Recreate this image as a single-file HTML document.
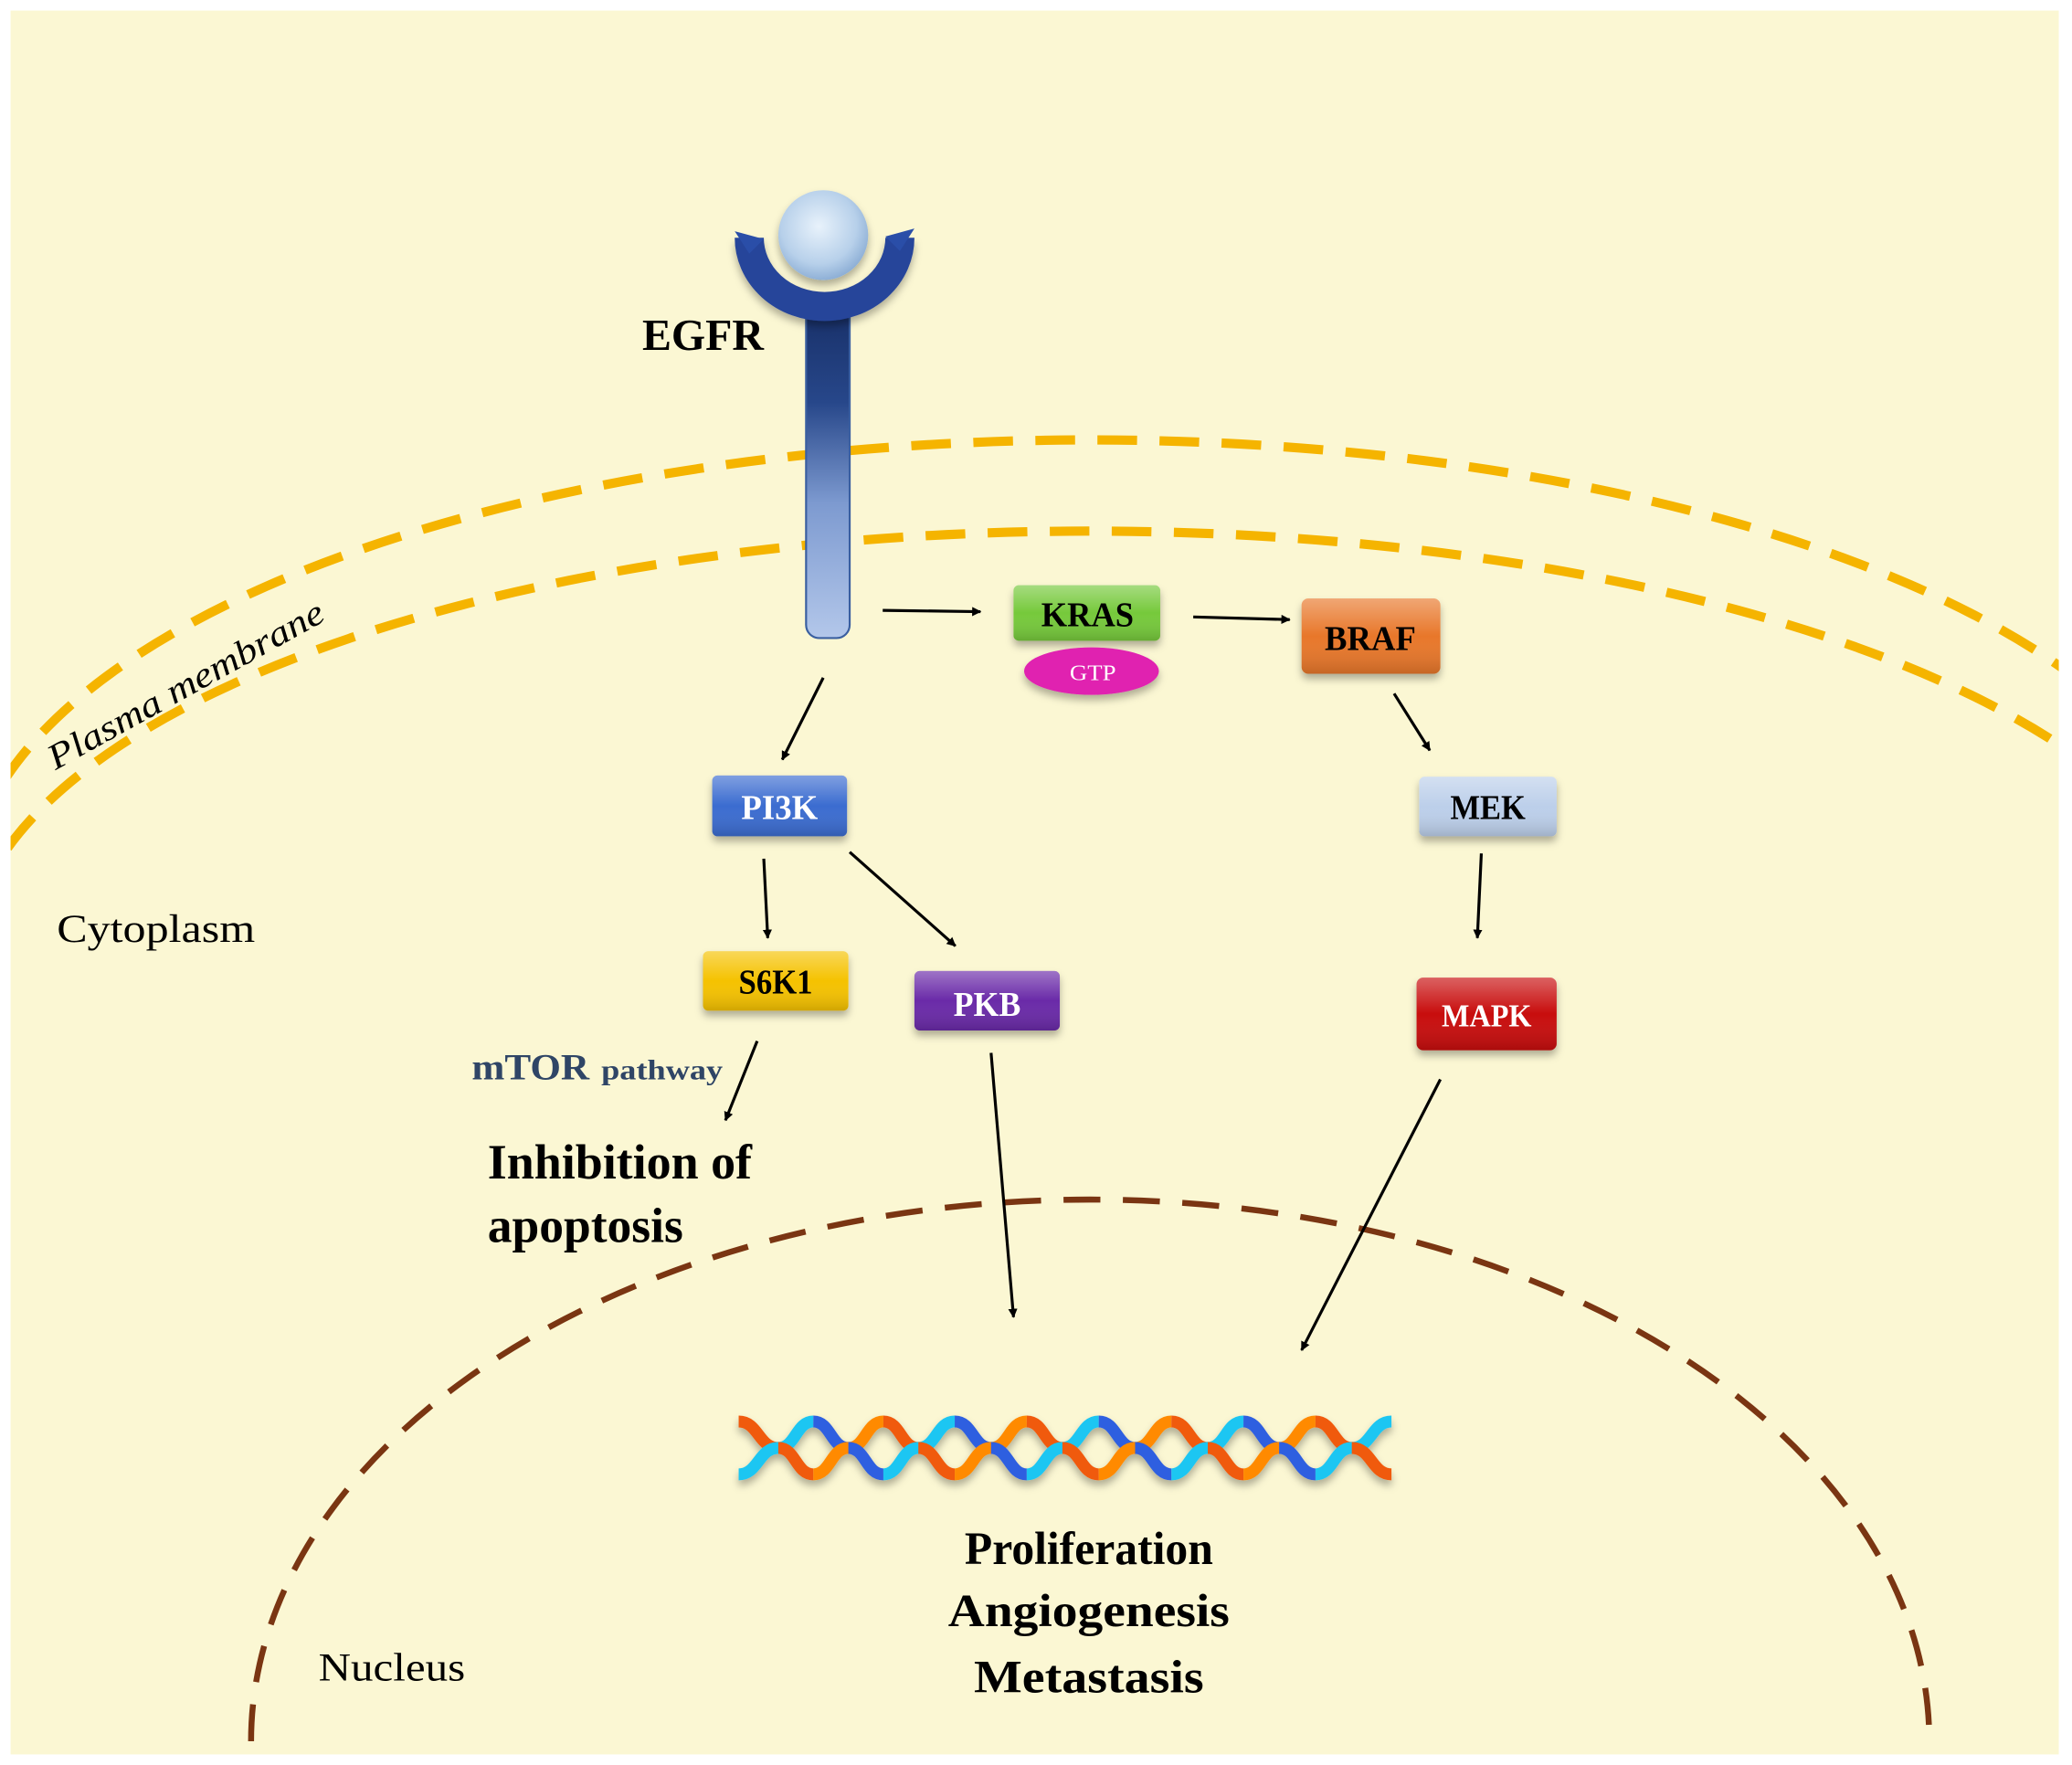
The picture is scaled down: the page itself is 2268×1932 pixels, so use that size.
<!DOCTYPE html>
<html><head><meta charset="utf-8"><style>html,body{margin:0;padding:0;background:#fff}svg{display:block}</style></head><body>
<svg width="2268" height="1932" viewBox="0 0 1568 1336" preserveAspectRatio="none" xmlns="http://www.w3.org/2000/svg" font-family="'Liberation Serif',serif">
<defs>
<clipPath id="bg"><rect x="8" y="8" width="1550" height="1320"/></clipPath>
<marker id="ah" viewBox="0 0 10 10" refX="9" refY="5" markerWidth="7" markerHeight="7" orient="auto" markerUnits="userSpaceOnUse"><path d="M0,0 L10,5 L0,10 z" fill="#000"/></marker>
<linearGradient id="stem" x1="0" y1="0" x2="0" y2="1"><stop offset="0" stop-color="#172e66"/><stop offset="0.3" stop-color="#27478a"/><stop offset="0.6" stop-color="#7d9ad0"/><stop offset="1" stop-color="#b3c7ea"/></linearGradient>
<radialGradient id="ball" cx="0.45" cy="0.4" r="0.6"><stop offset="0" stop-color="#e8f2fb"/><stop offset="0.7" stop-color="#b7d0ea"/><stop offset="1" stop-color="#8fb0d6"/></radialGradient>
<filter id="sh" x="-20%" y="-20%" width="140%" height="160%"><feDropShadow dx="0" dy="4" stdDeviation="3" flood-color="#000" flood-opacity="0.3"/></filter>
<linearGradient id="gl" x1="0" y1="0" x2="0" y2="1"><stop offset="0" stop-color="#fff" stop-opacity="0.35"/><stop offset="0.5" stop-color="#fff" stop-opacity="0"/><stop offset="1" stop-color="#000" stop-opacity="0.15"/></linearGradient>
</defs>
<rect x="0" y="0" width="1568" height="1336" fill="#fff"/>
<rect x="8" y="8" width="1550" height="1320" fill="#fbf7d3"/>
<g clip-path="url(#bg)" fill="none">
<path d="M-25 679 A 850 346 0 0 1 1675 679" stroke="#f5b400" stroke-width="7" stroke-dasharray="30 17"/>
<path d="M-25 729 A 850 327 0 0 1 1675 729" stroke="#f5b400" stroke-width="7" stroke-dasharray="30 17"/>
<path d="M190 1318 A 635 410 0 0 1 1460 1318" stroke="#7a3512" stroke-width="4.5" stroke-dasharray="28 17"/>
</g>
<text transform="translate(42,583) rotate(-29)" font-size="27" font-style="italic" textLength="235" lengthAdjust="spacingAndGlyphs">Plasma membrane</text>
<!-- EGFR -->
<rect x="610" y="228" width="33" height="255" rx="10" fill="url(#stem)" stroke="#3a5fa0" stroke-width="1.5"/>
<path d="M567 180 A 57 52 0 0 0 681 180" fill="none" stroke="#27459a" stroke-width="22" filter="url(#sh)"/>
<path d="M556 175 L578 181 L567 192 Z M692 173 L670 179 L681 190 Z" fill="#2a4ea8"/>
<circle cx="623" cy="178" r="34" fill="url(#ball)" filter="url(#sh)"/>
<text x="486" y="265" font-size="34" font-weight="bold" textLength="92" lengthAdjust="spacingAndGlyphs">EGFR</text>
<!-- arrows -->
<g stroke="#000" stroke-width="2.2" marker-end="url(#ah)">
<line x1="668" y1="462" x2="742" y2="463"/>
<line x1="903" y1="467" x2="976" y2="469"/>
<line x1="623" y1="513" x2="592" y2="575"/>
<line x1="1055" y1="525" x2="1082" y2="568"/>
<line x1="578" y1="650" x2="581" y2="710"/>
<line x1="643" y1="645" x2="723" y2="716"/>
<line x1="1121" y1="646" x2="1118" y2="710"/>
<line x1="573" y1="788" x2="549" y2="848"/>
<line x1="750" y1="797" x2="767" y2="997"/>
<line x1="1090" y1="817" x2="985" y2="1022"/>
</g>
<!-- nodes -->
<g font-weight="bold" font-size="26" text-anchor="middle">
<g filter="url(#sh)">
<rect x="767" y="443" width="111" height="42" rx="4" fill="#76c93a"/>
<rect x="985" y="453" width="105" height="57" rx="5" fill="#e8772a"/>
<rect x="539" y="587" width="102" height="46" rx="4" fill="#3a6cd0"/>
<rect x="1074" y="588" width="104" height="45" rx="4" fill="#bccfea"/>
<rect x="532" y="720" width="110" height="45" rx="4" fill="#f5c200"/>
<rect x="692" y="735" width="110" height="45" rx="4" fill="#6a2aa8"/>
<rect x="1072" y="740" width="106" height="55" rx="5" fill="#c81010"/>
<ellipse cx="826" cy="508" rx="51" ry="18" fill="#e020b0"/>
</g>
<rect x="767" y="443" width="111" height="42" rx="4" fill="url(#gl)"/>
<rect x="985" y="453" width="105" height="57" rx="5" fill="url(#gl)"/>
<rect x="539" y="587" width="102" height="46" rx="4" fill="url(#gl)"/>
<rect x="1074" y="588" width="104" height="45" rx="4" fill="url(#gl)"/>
<rect x="532" y="720" width="110" height="45" rx="4" fill="url(#gl)"/>
<rect x="692" y="735" width="110" height="45" rx="4" fill="url(#gl)"/>
<rect x="1072" y="740" width="106" height="55" rx="5" fill="url(#gl)"/>
<text x="823" y="474" textLength="70" lengthAdjust="spacingAndGlyphs">KRAS</text>
<text x="1037" y="492" textLength="69" lengthAdjust="spacingAndGlyphs">BRAF</text>
<text x="590" y="620" fill="#fff" textLength="58" lengthAdjust="spacingAndGlyphs">PI3K</text>
<text x="1126" y="620" textLength="57" lengthAdjust="spacingAndGlyphs">MEK</text>
<text x="587" y="752" textLength="56" lengthAdjust="spacingAndGlyphs">S6K1</text>
<text x="747" y="769" fill="#fff" textLength="51" lengthAdjust="spacingAndGlyphs">PKB</text>
<text x="1125" y="777" fill="#fff" font-size="24" textLength="68" lengthAdjust="spacingAndGlyphs">MAPK</text>
<text x="827" y="515" fill="#fff" font-size="17" font-weight="normal" textLength="35" lengthAdjust="spacingAndGlyphs">GTP</text>
</g>
<!-- labels -->
<text x="43" y="713" font-size="30" textLength="150" lengthAdjust="spacingAndGlyphs">Cytoplasm</text>
<text x="241" y="1272" font-size="30" textLength="111" lengthAdjust="spacingAndGlyphs">Nucleus</text>
<text x="357" y="817" font-size="28" font-weight="bold" fill="#2f4566" textLength="89" lengthAdjust="spacingAndGlyphs">mTOR</text>
<text x="455" y="817" font-size="21" font-weight="bold" fill="#2f4566" textLength="92" lengthAdjust="spacingAndGlyphs">pathway</text>
<text x="369" y="892" font-size="37" font-weight="bold" textLength="200" lengthAdjust="spacingAndGlyphs">Inhibition of</text>
<text x="369" y="940" font-size="37" font-weight="bold" textLength="148" lengthAdjust="spacingAndGlyphs">apoptosis</text>
<g font-size="35" font-weight="bold" text-anchor="middle">
<text x="824" y="1184" textLength="188" lengthAdjust="spacingAndGlyphs">Proliferation</text>
<text x="824" y="1231" textLength="213" lengthAdjust="spacingAndGlyphs">Angiogenesis</text>
<text x="824" y="1281" textLength="174" lengthAdjust="spacingAndGlyphs">Metastasis</text>
</g>
<!-- DNA -->
<g fill="none" stroke-width="9" filter="url(#sh)">
<path d="M559 1076 C574 1076 574 1096 589 1096" stroke="#f05a10"/>
<path d="M559 1116 C574 1116 574 1096 589 1096" stroke="#1cc6f2"/>
<!-- i1 odd -->
<path d="M589 1096 C602.25 1096 602.25 1076 615.5 1076" stroke="#1cc6f2"/>
<path d="M615.5 1076 C628.75 1076 628.75 1096 642 1096" stroke="#2f5ee0"/>
<path d="M589 1096 C602.25 1096 602.25 1116 615.5 1116" stroke="#f05a10"/>
<path d="M615.5 1116 C628.75 1116 628.75 1096 642 1096" stroke="#ff8a00"/>
<!-- i2 even -->
<path d="M642 1096 C655.25 1096 655.25 1076 668.5 1076" stroke="#ff8a00"/>
<path d="M668.5 1076 C681.75 1076 681.75 1096 695 1096" stroke="#f05a10"/>
<path d="M642 1096 C655.25 1096 655.25 1116 668.5 1116" stroke="#2f5ee0"/>
<path d="M668.5 1116 C681.75 1116 681.75 1096 695 1096" stroke="#1cc6f2"/>
<!-- i3 odd -->
<path d="M695 1096 C708.75 1096 708.75 1076 722.5 1076" stroke="#1cc6f2"/>
<path d="M722.5 1076 C736.25 1076 736.25 1096 750 1096" stroke="#2f5ee0"/>
<path d="M695 1096 C708.75 1096 708.75 1116 722.5 1116" stroke="#f05a10"/>
<path d="M722.5 1116 C736.25 1116 736.25 1096 750 1096" stroke="#ff8a00"/>
<!-- i4 even -->
<path d="M750 1096 C763.5 1096 763.5 1076 777 1076" stroke="#ff8a00"/>
<path d="M777 1076 C790.5 1076 790.5 1096 804 1096" stroke="#f05a10"/>
<path d="M750 1096 C763.5 1096 763.5 1116 777 1116" stroke="#2f5ee0"/>
<path d="M777 1116 C790.5 1116 790.5 1096 804 1096" stroke="#1cc6f2"/>
<!-- i5 odd -->
<path d="M804 1096 C817.75 1096 817.75 1076 831.5 1076" stroke="#1cc6f2"/>
<path d="M831.5 1076 C845.25 1076 845.25 1096 859 1096" stroke="#2f5ee0"/>
<path d="M804 1096 C817.75 1096 817.75 1116 831.5 1116" stroke="#f05a10"/>
<path d="M831.5 1116 C845.25 1116 845.25 1096 859 1096" stroke="#ff8a00"/>
<!-- i6 even -->
<path d="M859 1096 C872.75 1096 872.75 1076 886.5 1076" stroke="#ff8a00"/>
<path d="M886.5 1076 C900.25 1076 900.25 1096 914 1096" stroke="#f05a10"/>
<path d="M859 1096 C872.75 1096 872.75 1116 886.5 1116" stroke="#2f5ee0"/>
<path d="M886.5 1116 C900.25 1116 900.25 1096 914 1096" stroke="#1cc6f2"/>
<!-- i7 odd -->
<path d="M914 1096 C927.5 1096 927.5 1076 941 1076" stroke="#1cc6f2"/>
<path d="M941 1076 C954.5 1076 954.5 1096 968 1096" stroke="#2f5ee0"/>
<path d="M914 1096 C927.5 1096 927.5 1116 941 1116" stroke="#f05a10"/>
<path d="M941 1116 C954.5 1116 954.5 1096 968 1096" stroke="#ff8a00"/>
<!-- i8 even -->
<path d="M968 1096 C981.75 1096 981.75 1076 995.5 1076" stroke="#ff8a00"/>
<path d="M995.5 1076 C1009.25 1076 1009.25 1096 1023 1096" stroke="#f05a10"/>
<path d="M968 1096 C981.75 1096 981.75 1116 995.5 1116" stroke="#2f5ee0"/>
<path d="M995.5 1116 C1009.25 1116 1009.25 1096 1023 1096" stroke="#1cc6f2"/>
<path d="M1023 1096 C1038 1096 1038 1076 1053 1076" stroke="#1cc6f2"/>
<path d="M1023 1096 C1038 1096 1038 1116 1053 1116" stroke="#f05a10"/>
</g>
</svg>
</body></html>
